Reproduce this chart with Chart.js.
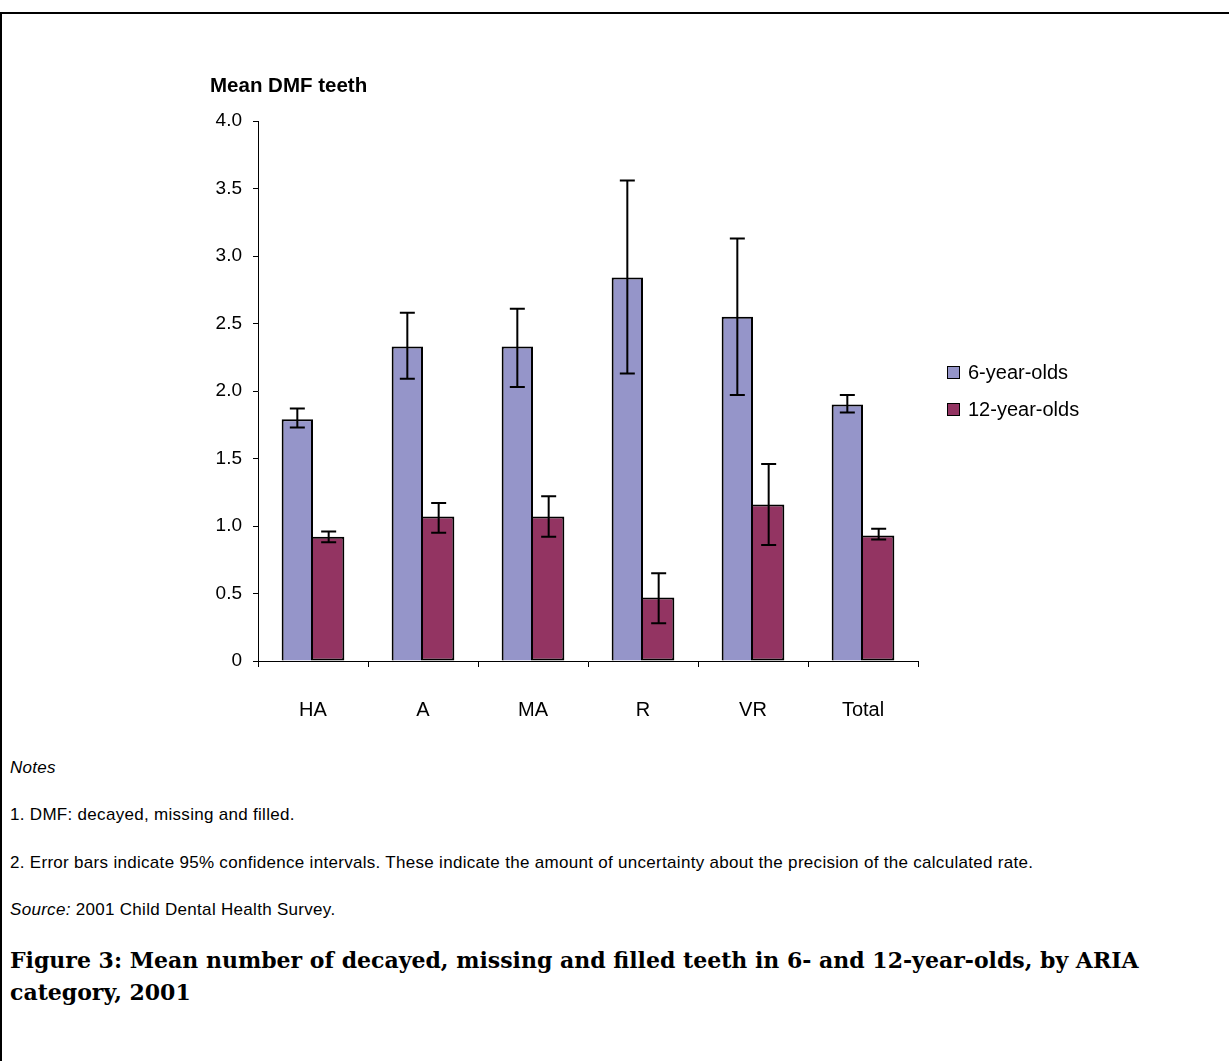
<!DOCTYPE html>
<html>
<head>
<meta charset="utf-8">
<script src="https://cdn.jsdelivr.net/npm/chart.js@4.4.1/dist/chart.umd.min.js"></script>
<style>
  body { margin: 0; background: #fff; font-family: "Liberation Sans", Arial, sans-serif; }
  #page { position: relative; width: 1229px; height: 1061px; overflow: hidden; }
  #frame { position: absolute; left: 0; top: 12px; right: -5px; bottom: -5px;
           border-left: 2px solid #000; border-top: 2px solid #000; }
  #chart-box { position: absolute; left: 0; top: 0; width: 1229px; height: 740px; }
  #y-title { position: absolute; left: 210px; top: 73px; font-size: 20.5px; font-weight: bold; }
  #legend { position: absolute; left: 947px; top: 354px; font-size: 20px; }
  .legend-item { display: flex; align-items: center; height: 37px; }
  .legend-item span:first-child { width: 11px; height: 11px; border: 1.5px solid #000; margin-right: 8px; }
  .note { position: absolute; left: 10px; font-size: 17px; letter-spacing: 0.3px; }
  #caption { position: absolute; left: 10px; top: 944px; font-family: "DejaVu Serif", serif;
             font-weight: bold; font-size: 22px; line-height: 32px; }
</style>
</head>
<body>
<div id="page">
  <div id="frame"></div>
  <div id="chart-box"><canvas id="dmf-barchart" width="1229" height="740"></canvas></div>
  <div id="y-title">Mean DMF teeth</div>
  <div id="legend"></div>
  <div class="note" style="top:758px"><i>Notes</i></div>
  <div class="note" style="top:805px">1. DMF: decayed, missing and filled.</div>
  <div class="note" style="top:853px">2. Error bars indicate 95% confidence intervals. These indicate the amount of uncertainty about the precision of the calculated rate.</div>
  <div class="note" style="top:900px"><i>Source:</i> 2001 Child Dental Health Survey.</div>
  <div id="caption">Figure 3: Mean number of decayed, missing and filled teeth in 6- and 12-year-olds, by ARIA<br>category, 2001</div>
</div>
<script>
//Data
let ariaCategories = ["HA", "A", "MA", "R", "VR", "Total"];
let sixYearMeans = [1.79, 2.33, 2.33, 2.84, 2.55, 1.90];
let sixYearLower = [1.73, 2.09, 2.03, 2.13, 1.97, 1.84];
let sixYearUpper = [1.87, 2.58, 2.61, 3.56, 3.13, 1.97];
let twelveYearMeans = [0.92, 1.07, 1.07, 0.47, 1.16, 0.93];
let twelveYearLower = [0.88, 0.95, 0.92, 0.28, 0.86, 0.90];
let twelveYearUpper = [0.96, 1.17, 1.22, 0.65, 1.46, 0.98];
let yTickValues = [0, 0.5, 1.0, 1.5, 2.0, 2.5, 3.0, 3.5, 4.0];

let sixYearColor = "#9595c9";
let twelveYearColor = "#933462";

Chart.defaults.font.family = "'Liberation Sans', Arial, sans-serif";
Chart.defaults.font.size = 20;
Chart.defaults.color = "#000";

//Error bars (95% CI)
const errorBarPlugin = {
  id: "errorBarPlugin",
  afterDatasetsDraw: (chart) => {
    const {ctx} = chart;
    const yScale = chart.scales.y;
    ctx.save();
    ctx.strokeStyle = "#000";
    ctx.lineWidth = 2;
    chart.data.datasets.forEach((dataset, i) => {
      let meta = chart.getDatasetMeta(i);
      meta.data.forEach((bar, j) => {
        let top = yScale.getPixelForValue(dataset.upper[j]);
        let bottom = yScale.getPixelForValue(dataset.lower[j]);
        ctx.beginPath();
        ctx.moveTo(bar.x, top);
        ctx.lineTo(bar.x, bottom);
        ctx.moveTo(bar.x - 7.5, top);
        ctx.lineTo(bar.x + 7.5, top);
        ctx.moveTo(bar.x - 7.5, bottom);
        ctx.lineTo(bar.x + 7.5, bottom);
        ctx.stroke();
      });
    });
    ctx.restore();
  }
};

let dmfChart = new Chart(document.getElementById("dmf-barchart"), {
  type: "bar",
  data: {
    labels: ariaCategories,
    datasets: [
      {
        label: "6-year-olds",
        data: sixYearMeans,
        lower: sixYearLower,
        upper: sixYearUpper,
        backgroundColor: sixYearColor,
        borderColor: "#000",
        borderWidth: 2,
        categoryPercentage: 0.57,
        barPercentage: 1.0,
      },
      {
        label: "12-year-olds",
        data: twelveYearMeans,
        lower: twelveYearLower,
        upper: twelveYearUpper,
        backgroundColor: twelveYearColor,
        borderColor: "#000",
        borderWidth: 2,
        borderSkipped: "left",
        categoryPercentage: 0.57,
        barPercentage: 1.0,
      }
    ],
  },

  plugins: [errorBarPlugin],

  options: {
    responsive: false,
    animation: false,
    layout: {
      padding: {left: 0, top: 121, right: 311, bottom: 0}
    },
    scales: {
      x: {
        border: {display: true, color: "#000", width: 1},
        grid: {
          offset: true,
          drawOnChartArea: false,
          color: "#000",
          tickLength: 6,
        },
        ticks: {padding: 31},
        afterFit: (scale) => { scale.height = 79; },
      },
      y: {
        min: 0,
        max: 4,
        border: {display: true, color: "#000", width: 1},
        grid: {
          drawOnChartArea: false,
          color: "#000",
          tickLength: 5,
        },
        ticks: {
          padding: 11,
          font: {size: 19},
          callback: (value) => value === 0 ? "0" : value.toFixed(1),
        },
        afterBuildTicks: (scale) => {
          scale.ticks = yTickValues.map((v) => ({value: v}));
        },
        afterFit: (scale) => { scale.width = 258; },
      }
    },
    plugins: {
      legend: {display: false},
      tooltip: {enabled: false},
    }
  },
});

//Legend
let legendBox = document.getElementById("legend");
dmfChart.data.datasets.forEach((dataset) => {
  let item = document.createElement("div");
  item.className = "legend-item";
  let swatch = document.createElement("span");
  swatch.style.backgroundColor = dataset.backgroundColor;
  let text = document.createElement("span");
  text.textContent = dataset.label;
  item.appendChild(swatch);
  item.appendChild(text);
  legendBox.appendChild(item);
});
</script>
</body>
</html>
